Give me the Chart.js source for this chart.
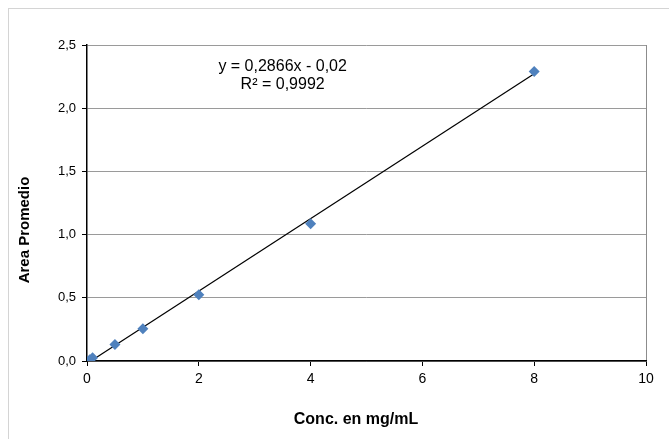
<!DOCTYPE html>
<html>
<head>
<meta charset="utf-8">
<script src="https://cdn.jsdelivr.net/npm/chart.js@4.4.1/dist/chart.umd.min.js"></script>
<style>
  body { margin: 0; background: #fff; }
  #wrap { position: relative; width: 669px; height: 439px; overflow: hidden; }
  #frame { position: absolute; left: 8px; top: 8px; width: 700px; height: 500px; border: 1px solid #d4d4d4; }
  canvas { position: absolute; left: 0; top: 0; }
</style>
</head>
<body>
<div id="wrap">
  <div id="frame"></div>
  <canvas id="calChart" width="669" height="439"></canvas>
</div>
<script>
// datos de calibración
const conc = [0.05, 0.1, 0.5, 1, 2, 4, 8];
const area = [0.01, 0.025, 0.13, 0.255, 0.525, 1.085, 2.29];
// línea de tendencia (extremos)
const trendX = [0.07, 8];
const trendY = [0, 2.273];
const xTicks = [0, 2, 4, 6, 8, 10];
const yTicks = [0, 0.5, 1, 1.5, 2, 2.5];
const eqText = ['y = 0,2866x - 0,02', 'R² = 0,9992'];
const xTitle = 'Conc. en mg/mL';
const yTitle = 'Area Promedio';

const font = 'Liberation Sans, Arial, sans-serif';

// ecuación y títulos de ejes
const textPlugin = {
  id: 'textos',
  afterDatasetsDraw(chart) {
    const c = chart.ctx;
    const x = chart.scales.x.getPixelForValue(3.5);
    const y1 = chart.scales.y.getPixelForValue(2.33);
    const y2 = chart.scales.y.getPixelForValue(2.19);
    c.save();
    c.fillStyle = '#000';
    c.textAlign = 'center';
    c.textBaseline = 'middle';
    c.font = '16px ' + font;
    c.fillText(eqText[0], x, y1);
    c.fillText(eqText[1], x, y2);

    c.font = 'bold 16px ' + font;
    c.fillText(xTitle, 356, 420);
    c.font = 'bold 15px ' + font;
    c.translate(25, 230);
    c.rotate(-Math.PI / 2);
    c.fillText(yTitle, 0, 0);
    c.restore();
  }
};

const ctx = document.getElementById('calChart').getContext('2d');
new Chart(ctx, {
  type: 'scatter',
  data: {
    datasets: [{
      label: 'Tendencia',
      type: 'line',
      data: trendX.map((x, i) => ({ x: x, y: trendY[i] })),
      borderColor: '#000',
      borderWidth: 1.2,
      pointRadius: 0,
      fill: false,
      order: 2
    }, {
      label: 'Area',
      data: conc.map((x, i) => ({ x: x, y: area[i] })),
      pointStyle: 'rectRot',
      pointRadius: 5.5,
      backgroundColor: '#4f81bd',
      borderColor: '#4f81bd',
      borderWidth: 0,
      order: 1
    }]
  },
  options: {
    responsive: false,
    animation: false,
    layout: { padding: { left: 0, right: 23, top: 45, bottom: 0 } },
    plugins: { legend: { display: false }, tooltip: { enabled: false } },
    scales: {
      x: {
        type: 'linear',
        min: 0, max: 10,
        afterBuildTicks: axis => { axis.ticks = xTicks.map(v => ({ value: v })); },
        afterFit: axis => { axis.height = 78; },
        border: { color: '#000', width: 1.5 },
        grid: {
          color: c => c.tick && c.tick.value === 10 ? '#8c8c8c' : 'transparent',
          tickColor: '#000',
          tickLength: 5
        },
        ticks: { color: '#000', font: { family: font, size: 14 }, padding: 5 }
      },
      y: {
        min: 0, max: 2.5,
        afterBuildTicks: axis => { axis.ticks = yTicks.map(v => ({ value: v })); },
        afterFit: axis => { axis.width = 87; },
        border: { color: '#000', width: 1.5 },
        grid: { color: '#9a9a9a', tickColor: '#000', tickLength: 5 },
        ticks: {
          color: '#000',
          font: { family: font, size: 13 },
          padding: 6,
          callback: v => v.toFixed(1).replace('.', ',')
        }
      }
    }
  },
  plugins: [textPlugin]
});
</script>
</body>
</html>
